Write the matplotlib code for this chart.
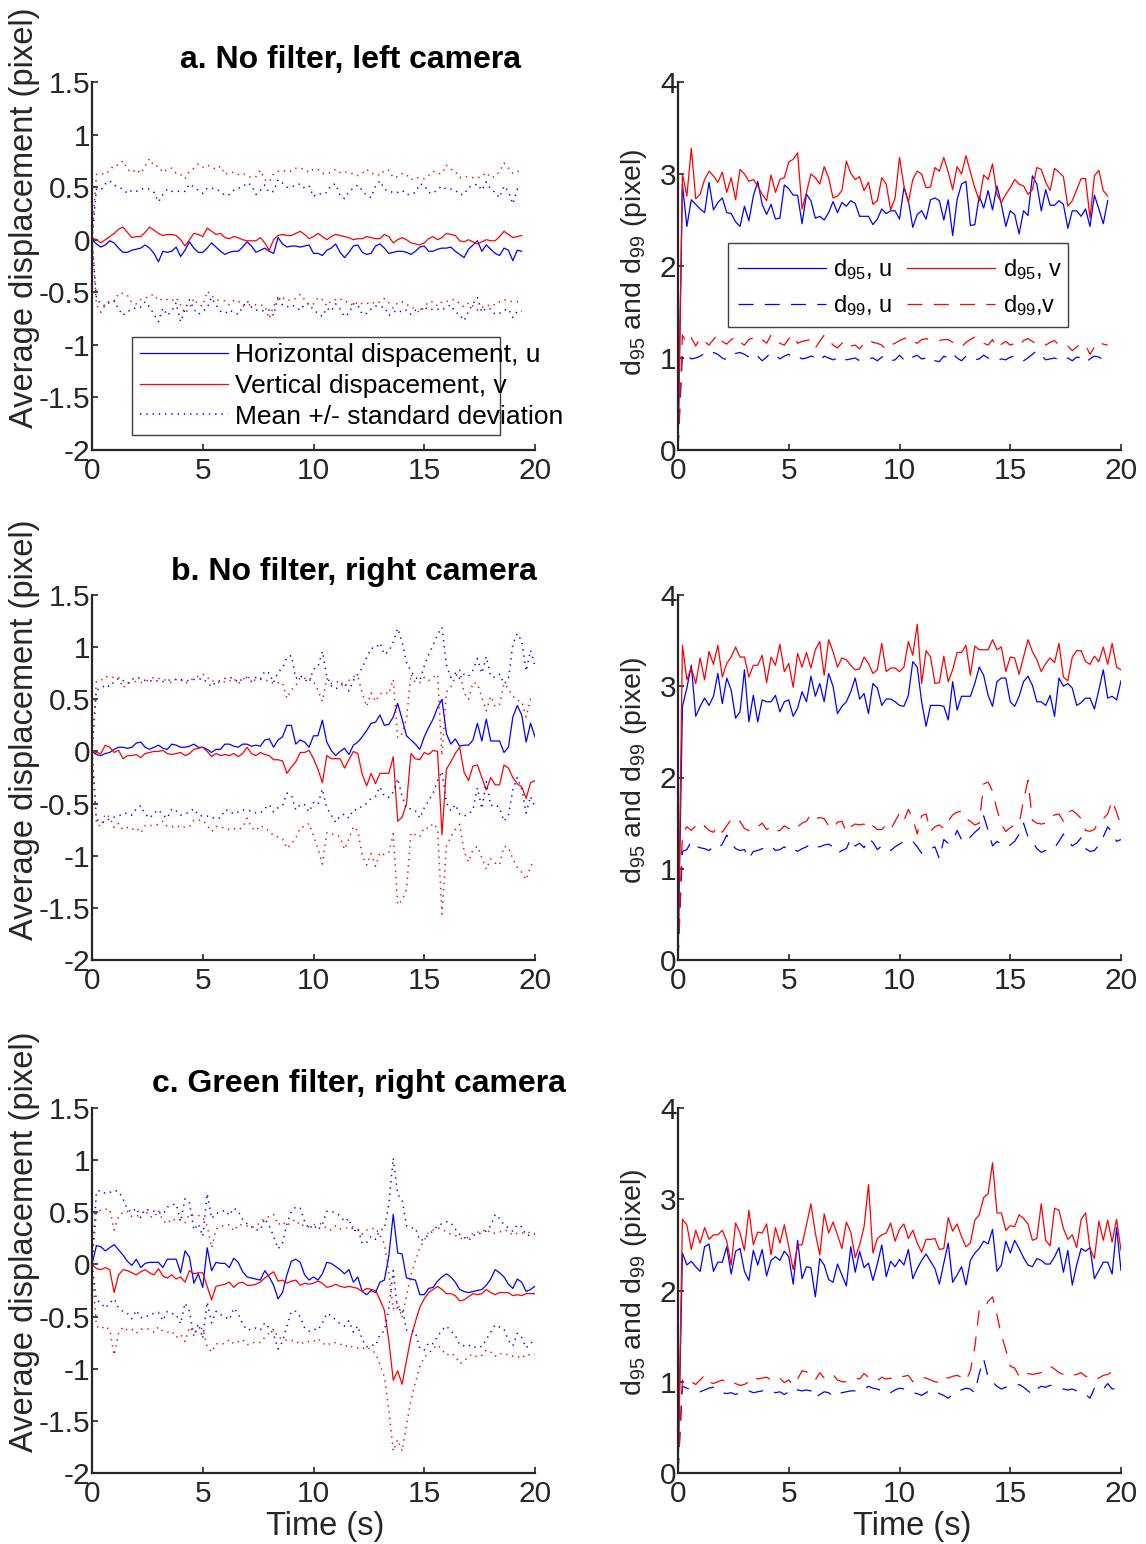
import matplotlib
matplotlib.use("Agg")
import matplotlib.pyplot as plt
import numpy as np
from matplotlib.patches import Rectangle

plt.rcParams['font.family'] = ['Liberation Sans', 'DejaVu Sans']
plt.rcParams['mathtext.fontset'] = 'custom'
plt.rcParams['mathtext.rm'] = 'Liberation Sans'
plt.rcParams['mathtext.it'] = 'Liberation Sans:italic'
plt.rcParams['axes.unicode_minus'] = False

## DATA ##
DT = 0.2  # sampling step (s)

# a. No filter, left camera
u_a = [0.0, -0.04, -0.07, -0.05, -0.01, -0.03, -0.08, -0.12, -0.12, -0.10, -0.09, -0.08, -0.05, -0.08, -0.13, -0.21,
       -0.11, -0.12, -0.11, -0.07, -0.16, -0.10, -0.02, -0.08, -0.12, -0.12, -0.08, -0.03, -0.07, -0.11, -0.14, -0.12,
       -0.11, -0.11, -0.07, -0.02, -0.06, -0.12, -0.10, -0.08, -0.11, -0.13, 0.02, -0.04, -0.07, -0.06, -0.06, -0.07,
       -0.06, -0.05, -0.13, -0.13, -0.15, -0.10, -0.08, -0.04, -0.12, -0.17, -0.12, -0.06, -0.05, -0.12, -0.14, -0.13,
       -0.06, -0.04, -0.08, -0.13, -0.12, -0.11, -0.11, -0.12, -0.14, -0.11, -0.07, -0.06, -0.11, -0.11, -0.09, -0.08,
       -0.08, -0.07, -0.11, -0.14, -0.17, -0.09, -0.05, -0.01, -0.11, -0.05, -0.09, -0.13, -0.15, -0.08, -0.10, -0.20,
       -0.10, -0.11]
v_a = [0.02, 0.0, -0.03, 0.0, 0.03, 0.06, 0.10, 0.12, 0.07, 0.02, 0.03, 0.03, 0.07, 0.12, 0.09, 0.06,
       0.04, 0.05, 0.05, 0.04, 0.0, -0.06, 0.0, 0.06, 0.05, 0.03, 0.11, 0.08, 0.05, 0.06, 0.02, 0.01,
       0.03, 0.02, 0.0, -0.01, -0.01, -0.01, 0.02, -0.03, -0.10, 0.0, 0.04, 0.05, 0.04, 0.04, 0.06, 0.08,
       0.05, 0.01, 0.03, 0.06, 0.03, 0.0, 0.03, 0.05, 0.04, 0.03, 0.02, 0.0, 0.01, 0.01, 0.03, 0.02,
       0.01, 0.01, 0.05, 0.03, -0.03, 0.0, 0.02, 0.0, -0.03, -0.04, -0.05, -0.03, 0.01, 0.03, 0.0, 0.02,
       0.06, 0.05, 0.04, -0.01, -0.02, 0.0, -0.02, -0.04, -0.02, 0.0, -0.01, -0.01, 0.03, 0.08, 0.05, 0.02,
       0.03, 0.04]
su_a = [0.0, 0.52, 0.54, 0.58, 0.57, 0.55, 0.58, 0.60, 0.56, 0.57, 0.55, 0.56, 0.54, 0.56, 0.58, 0.57,
        0.54, 0.60, 0.57, 0.53, 0.62, 0.56, 0.55, 0.58, 0.59, 0.56, 0.57, 0.52, 0.55, 0.57, 0.56, 0.55,
        0.58, 0.60, 0.57, 0.56, 0.58, 0.55, 0.57, 0.60, 0.56, 0.59, 0.55, 0.58, 0.57, 0.56, 0.58, 0.60,
        0.55, 0.56, 0.54, 0.57, 0.58, 0.55, 0.60, 0.57, 0.54, 0.56, 0.58, 0.55, 0.57, 0.59, 0.56, 0.53,
        0.57, 0.60, 0.56, 0.59, 0.57, 0.56, 0.58, 0.55, 0.57, 0.56, 0.60, 0.58, 0.56, 0.55, 0.57, 0.59,
        0.56, 0.55, 0.58, 0.57, 0.60, 0.59, 0.56, 0.54, 0.58, 0.60, 0.57, 0.58, 0.55, 0.59, 0.56, 0.54,
        0.58, 0.57]
sv_a = [0.0, 0.62, 0.66, 0.62, 0.63, 0.65, 0.61, 0.63, 0.60, 0.62, 0.64, 0.60, 0.63, 0.65, 0.61, 0.64,
        0.60, 0.62, 0.63, 0.59, 0.62, 0.64, 0.65, 0.62, 0.67, 0.66, 0.60, 0.61, 0.62, 0.64, 0.60, 0.63,
        0.61, 0.60, 0.63, 0.62, 0.60, 0.61, 0.64, 0.60, 0.65, 0.63, 0.61, 0.60, 0.62, 0.61, 0.62, 0.60,
        0.62, 0.63, 0.64, 0.61, 0.60, 0.63, 0.61, 0.62, 0.60, 0.62, 0.61, 0.63, 0.60, 0.62, 0.64, 0.61,
        0.62, 0.60, 0.61, 0.63, 0.62, 0.60, 0.61, 0.62, 0.60, 0.63, 0.64, 0.61, 0.60, 0.62, 0.63, 0.61,
        0.65, 0.62, 0.61, 0.60, 0.62, 0.60, 0.61, 0.63, 0.62, 0.64, 0.60, 0.61, 0.62, 0.65, 0.63, 0.61,
        0.62, 0.60]
d95u_a = [0.0, 2.89, 2.43, 2.72, 2.67, 2.62, 2.58, 2.91, 2.61, 2.69, 2.74, 2.58, 2.57, 2.48, 2.43, 2.65,
          2.49, 2.76, 2.92, 2.67, 2.56, 2.67, 2.51, 2.52, 2.88, 2.84, 2.77, 2.77, 2.46, 2.78, 2.71, 2.52,
          2.54, 2.50, 2.58, 2.70, 2.58, 2.69, 2.65, 2.71, 2.68, 2.54, 2.54, 2.54, 2.45, 2.51, 2.62, 2.57,
          2.60, 2.60, 2.51, 2.85, 2.71, 2.42, 2.56, 2.60, 2.51, 2.72, 2.74, 2.71, 2.50, 2.72, 2.33, 2.72,
          2.89, 2.92, 2.44, 2.45, 2.76, 2.63, 2.82, 2.61, 2.87, 2.67, 2.43, 2.60, 2.56, 2.35, 2.60, 2.55,
          2.98, 2.89, 2.60, 2.83, 2.66, 2.66, 2.71, 2.67, 2.41, 2.60, 2.60, 2.54, 2.62, 2.43, 2.77, 2.62,
          2.46, 2.71]
d95v_a = [0.0, 3.00, 2.76, 3.28, 2.73, 2.78, 2.94, 3.03, 2.98, 2.91, 3.02, 2.80, 2.96, 2.72, 3.05, 3.00,
          2.92, 2.94, 2.87, 2.78, 2.71, 2.99, 2.80, 2.94, 2.96, 3.13, 3.16, 3.23, 2.62, 2.80, 3.00, 2.96,
          2.89, 3.08, 2.96, 2.74, 2.76, 2.82, 3.14, 3.01, 2.94, 2.97, 2.82, 2.91, 2.67, 2.71, 2.96, 2.89,
          2.61, 2.74, 3.18, 2.87, 2.69, 2.94, 3.03, 3.00, 2.85, 2.86, 3.07, 3.03, 3.18, 3.02, 2.83, 3.08,
          3.00, 3.20, 3.02, 2.85, 2.71, 2.99, 2.94, 3.11, 2.78, 2.69, 2.78, 2.85, 2.94, 2.89, 2.87, 2.78,
          2.83, 3.07, 3.05, 2.91, 2.82, 3.06, 3.02, 2.97, 2.65, 2.71, 2.83, 2.95, 2.95, 2.52, 2.98, 3.04,
          2.82, 2.76]
d99u_a = [0.0, 1.05, 1.03, 0.99, 1.00, 1.02, 1.05, 1.03, 1.06, 1.04, 1.00, 0.98, 1.02, 1.05, 1.06, 1.04,
          1.01, 1.05, 1.02, 0.97, 1.01, 1.06, 1.03, 0.99, 1.02, 1.04, 1.00, 1.02, 0.99, 1.00, 1.02, 1.01,
          0.97, 1.02, 1.00, 0.98, 1.00, 1.02, 0.98, 0.99, 1.00, 0.97, 0.98, 0.99, 1.00, 0.97, 1.01, 1.02,
          0.97, 0.98, 1.03, 0.98, 0.96, 1.01, 1.03, 0.99, 1.00, 1.02, 0.97, 0.96, 1.02, 1.00, 1.05, 1.00,
          0.97, 1.02, 1.01, 0.98, 0.99, 1.03, 1.00, 0.98, 0.97, 0.99, 0.98, 1.01, 1.02, 0.98, 0.97, 1.00,
          1.04, 1.08, 1.03, 0.98, 0.99, 1.00, 0.98, 0.97, 1.00, 0.97, 1.01, 1.00, 0.95, 0.99, 1.02, 1.01,
          0.98, 1.00]
d99v_a = [0.0, 1.25, 1.16, 1.22, 1.13, 1.22, 1.18, 1.14, 1.20, 1.26, 1.18, 1.15, 1.20, 1.23, 1.17, 1.14,
          1.20, 1.22, 1.18, 1.20, 1.16, 1.25, 1.20, 1.16, 1.14, 1.21, 1.25, 1.16, 1.18, 1.19, 1.20, 1.11,
          1.18, 1.25, 1.20, 1.14, 1.11, 1.16, 1.19, 1.13, 1.14, 1.10, 1.16, 1.20, 1.17, 1.16, 1.14, 1.09,
          1.14, 1.16, 1.19, 1.21, 1.23, 1.18, 1.16, 1.20, 1.21, 1.20, 1.21, 1.19, 1.20, 1.20, 1.17, 1.14,
          1.12, 1.17, 1.20, 1.23, 1.18, 1.16, 1.14, 1.20, 1.11, 1.15, 1.18, 1.14, 1.16, 1.13, 1.19, 1.21,
          1.18, 1.15, 1.16, 1.14, 1.17, 1.19, 1.14, 1.12, 1.13, 1.08, 1.12, 1.16, 1.14, 1.04, 1.12, 1.18,
          1.15, 1.14]

# b. No filter, right camera
u_b = [0.0, -0.03, -0.04, -0.02, -0.01, 0.02, 0.04, 0.04, 0.03, 0.04, 0.08, 0.09, 0.04, 0.02, 0.04, 0.06,
       0.03, 0.02, 0.07, 0.06, 0.04, 0.04, 0.05, 0.07, 0.04, 0.04, 0.02, -0.01, 0.02, 0.02, 0.07, 0.07,
       0.05, 0.04, 0.07, 0.07, 0.05, 0.06, 0.05, 0.11, 0.12, 0.04, 0.11, 0.14, 0.25, 0.25, 0.07, 0.11,
       0.09, 0.04, 0.15, 0.15, 0.30, 0.09, 0.01, -0.04, 0.0, 0.03, -0.03, 0.06, 0.09, 0.14, 0.20, 0.27,
       0.28, 0.35, 0.25, 0.26, 0.33, 0.46, 0.31, 0.15, 0.11, 0.07, 0.02, 0.14, 0.23, 0.31, 0.42, 0.50,
       0.17, 0.07, 0.12, 0.05, 0.06, 0.06, 0.11, 0.27, 0.10, 0.31, 0.10, 0.10, 0.10, -0.01, 0.04, 0.33,
       0.44, 0.35, 0.09, 0.27, 0.14]
v_b = [0.0, -0.01, -0.02, 0.06, 0.04, -0.01, 0.01, -0.07, -0.04, -0.04, -0.03, -0.06, -0.02, -0.01, 0.0, 0.0,
       0.01, -0.02, -0.03, -0.02, -0.01, -0.04, -0.02, 0.02, 0.03, 0.04, 0.0, -0.05, -0.02, -0.04, -0.03, -0.04,
       -0.02, -0.05, -0.02, 0.04, -0.02, -0.04, -0.01, -0.03, -0.04, -0.08, -0.08, -0.09, -0.21, -0.15, -0.10, -0.01,
       -0.01, 0.01, -0.07, -0.17, -0.30, -0.04, -0.07, -0.07, -0.07, -0.16, -0.08, 0.0, -0.02, -0.22, -0.33, -0.21,
       -0.31, -0.21, -0.21, -0.21, -0.05, -0.67, -0.63, -0.50, -0.02, -0.07, -0.08, -0.01, -0.03, 0.01, 0.0, -0.80,
       -0.17, -0.10, -0.02, 0.04, -0.20, -0.28, -0.14, -0.13, -0.25, -0.37, -0.25, -0.32, -0.32, -0.13, -0.16, -0.25,
       -0.31, -0.34, -0.45, -0.30, -0.28]
su_b = [0.0, 0.62, 0.64, 0.66, 0.63, 0.65, 0.66, 0.64, 0.62, 0.65, 0.63, 0.61, 0.64, 0.66, 0.63, 0.62,
        0.64, 0.66, 0.62, 0.63, 0.65, 0.64, 0.63, 0.62, 0.65, 0.66, 0.64, 0.63, 0.65, 0.66, 0.63, 0.64,
        0.65, 0.62, 0.63, 0.64, 0.62, 0.65, 0.64, 0.66, 0.63, 0.62, 0.65, 0.66, 0.65, 0.67, 0.63, 0.62,
        0.60, 0.62, 0.64, 0.66, 0.66, 0.63, 0.62, 0.64, 0.62, 0.63, 0.61, 0.62, 0.65, 0.66, 0.70, 0.72,
        0.71, 0.69, 0.68, 0.70, 0.72, 0.72, 0.74, 0.70, 0.66, 0.64, 0.66, 0.68, 0.70, 0.71, 0.70, 0.69,
        0.66, 0.64, 0.63, 0.65, 0.68, 0.66, 0.67, 0.62, 0.65, 0.60, 0.62, 0.61, 0.64, 0.66, 0.65, 0.70,
        0.69, 0.71, 0.68, 0.70, 0.68]
sv_b = [0.0, 0.68, 0.70, 0.66, 0.67, 0.72, 0.70, 0.68, 0.69, 0.71, 0.70, 0.72, 0.69, 0.70, 0.71, 0.70,
        0.68, 0.70, 0.69, 0.71, 0.70, 0.69, 0.70, 0.68, 0.69, 0.70, 0.71, 0.72, 0.70, 0.69, 0.70, 0.71,
        0.72, 0.70, 0.71, 0.68, 0.71, 0.72, 0.70, 0.71, 0.72, 0.73, 0.74, 0.75, 0.72, 0.74, 0.73, 0.72,
        0.71, 0.70, 0.74, 0.76, 0.78, 0.74, 0.72, 0.73, 0.75, 0.78, 0.76, 0.72, 0.74, 0.78, 0.76, 0.77,
        0.79, 0.76, 0.78, 0.76, 0.74, 0.80, 0.80, 0.82, 0.76, 0.73, 0.74, 0.72, 0.71, 0.70, 0.74, 0.76,
        0.74, 0.72, 0.73, 0.74, 0.76, 0.78, 0.80, 0.78, 0.77, 0.76, 0.78, 0.75, 0.77, 0.78, 0.76, 0.78,
        0.80, 0.82, 0.78, 0.80, 0.76]
d95u_b = [0.0, 2.78, 2.98, 3.23, 2.67, 2.78, 2.87, 2.79, 2.89, 3.14, 2.81, 3.09, 2.96, 2.65, 2.72, 3.18,
          2.61, 2.90, 2.61, 2.85, 2.83, 2.83, 2.90, 2.72, 2.83, 2.85, 2.67, 2.76, 2.94, 2.83, 3.11, 2.89,
          3.03, 2.83, 3.14, 3.00, 2.70, 2.78, 2.83, 2.94, 3.09, 2.86, 2.92, 2.70, 3.03, 2.98, 2.79, 2.86,
          2.86, 2.83, 2.79, 2.78, 2.90, 3.27, 3.21, 2.83, 2.56, 2.79, 2.79, 2.79, 2.78, 2.63, 3.05, 2.74,
          2.89, 2.89, 2.89, 3.03, 3.21, 3.12, 2.90, 2.78, 3.05, 3.09, 3.09, 2.83, 2.78, 2.89, 3.05, 3.11,
          3.01, 2.83, 2.83, 2.79, 2.90, 2.67, 3.09, 3.00, 3.03, 2.98, 2.79, 2.82, 2.87, 2.87, 2.75, 2.96,
          3.18, 2.87, 2.89, 2.85, 3.06]
d95v_b = [0.0, 3.45, 3.07, 3.20, 3.03, 3.31, 3.07, 3.38, 3.24, 3.45, 3.10, 3.25, 3.32, 3.43, 3.32, 3.32,
          3.10, 3.23, 3.23, 3.34, 3.04, 3.32, 3.23, 3.46, 3.16, 3.25, 2.99, 3.36, 3.21, 3.37, 3.20, 3.40,
          3.49, 3.12, 3.51, 3.38, 3.21, 3.31, 3.29, 3.23, 3.18, 3.19, 3.32, 3.25, 3.14, 3.18, 3.47, 3.16,
          3.20, 3.20, 3.16, 3.21, 3.49, 3.34, 3.68, 3.03, 3.39, 3.32, 3.03, 3.04, 3.33, 3.05, 3.18, 3.37,
          3.37, 3.45, 3.12, 3.44, 3.40, 3.40, 3.40, 3.51, 3.40, 3.43, 3.16, 3.32, 3.31, 3.13, 3.32, 3.51,
          3.38, 3.29, 3.16, 3.25, 3.31, 3.26, 3.47, 3.10, 3.06, 3.32, 3.39, 3.39, 3.27, 3.24, 3.33, 3.27,
          3.43, 3.24, 3.47, 3.21, 3.18]
d99u_b = [0.0, 1.19, 1.21, 1.30, 1.25, 1.23, 1.22, 1.20, 1.24, 1.22, 1.27, 1.37, 1.28, 1.22, 1.20, 1.21,
          1.11, 1.19, 1.20, 1.22, 1.23, 1.25, 1.20, 1.21, 1.24, 1.20, 1.22, 1.19, 1.22, 1.24, 1.28, 1.25,
          1.24, 1.26, 1.27, 1.24, 1.17, 1.20, 1.22, 1.33, 1.25, 1.28, 1.23, 1.33, 1.29, 1.21, 1.25, 1.21,
          1.20, 1.24, 1.27, 1.30, 1.31, 1.30, 1.24, 1.17, 1.19, 1.22, 1.24, 1.11, 1.32, 1.28, 1.30, 1.42,
          1.32, 1.29, 1.35, 1.40, 1.44, 1.58, 1.42, 1.25, 1.30, 1.27, 1.24, 1.26, 1.30, 1.38, 1.50, 1.35,
          1.30, 1.22, 1.18, 1.20, 1.21, 1.23, 1.30, 1.38, 1.31, 1.25, 1.28, 1.34, 1.22, 1.19, 1.20, 1.26,
          1.35, 1.46, 1.40, 1.30, 1.32]
d99v_b = [0.0, 1.39, 1.46, 1.42, 1.47, 1.43, 1.47, 1.42, 1.40, 1.47, 1.40, 1.47, 1.54, 1.50, 1.52, 1.44,
          1.42, 1.41, 1.46, 1.50, 1.43, 1.46, 1.41, 1.42, 1.47, 1.44, 1.41, 1.46, 1.50, 1.52, 1.60, 1.55,
          1.56, 1.55, 1.47, 1.44, 1.51, 1.52, 1.40, 1.46, 1.49, 1.48, 1.49, 1.43, 1.47, 1.43, 1.43, 1.48,
          1.43, 1.52, 1.61, 1.53, 1.65, 1.55, 1.38, 1.58, 1.60, 1.41, 1.46, 1.48, 1.44, 1.52, 1.59, 1.62,
          1.63, 1.55, 1.52, 1.48, 1.50, 1.93, 1.95, 1.85, 1.65, 1.48, 1.41, 1.45, 1.48, 1.49, 1.75, 1.97,
          1.53, 1.50, 1.49, 1.50, 1.56, 1.59, 1.60, 1.52, 1.62, 1.64, 1.60, 1.55, 1.42, 1.41, 1.43, 1.52,
          1.55, 1.60, 1.75, 1.62, 1.47]

# c. Green filter, right camera
u_c = [0.0, 0.18, 0.17, 0.13, 0.16, 0.19, 0.14, 0.09, 0.03, -0.01, 0.05, -0.03, 0.01, 0.02, 0.02, 0.02,
       -0.03, 0.05, 0.05, 0.05, -0.08, 0.13, 0.07, -0.18, -0.09, -0.22, 0.16, -0.06, 0.02, 0.01, 0.01, -0.03,
       0.06, 0.02, -0.07, -0.12, -0.13, -0.14, -0.15, -0.06, -0.12, -0.20, -0.33, -0.27, -0.10, 0.03, 0.05, 0.02,
       -0.10, -0.15, -0.12, -0.15, -0.09, 0.02, 0.01, -0.02, -0.05, -0.09, -0.05, -0.17, -0.12, -0.26, -0.29, -0.25,
       -0.27, -0.17, -0.15, 0.08, 0.48, 0.11, 0.10, -0.13, -0.14, -0.15, -0.29, -0.29, -0.23, -0.22, -0.16, -0.12,
       -0.09, -0.12, -0.17, -0.24, -0.26, -0.27, -0.26, -0.25, -0.24, -0.20, -0.14, -0.05, -0.08, -0.12, -0.19, -0.23,
       -0.14, -0.17, -0.26, -0.24, -0.21]
v_c = [0.0, -0.04, -0.05, -0.03, -0.05, -0.27, -0.10, -0.05, -0.06, -0.08, -0.10, -0.07, -0.05, -0.08, -0.10, -0.04,
       -0.11, -0.13, -0.10, -0.14, -0.12, -0.17, -0.06, -0.09, -0.08, -0.08, -0.21, -0.34, -0.21, -0.20, -0.19, -0.17,
       -0.22, -0.18, -0.17, -0.20, -0.20, -0.19, -0.17, -0.13, -0.10, -0.07, -0.16, -0.15, -0.18, -0.16, -0.15, -0.20,
       -0.18, -0.19, -0.18, -0.16, -0.18, -0.22, -0.21, -0.19, -0.21, -0.22, -0.21, -0.22, -0.23, -0.26, -0.23, -0.24,
       -0.25, -0.34, -0.44, -0.73, -1.11, -1.02, -1.15, -0.92, -0.70, -0.55, -0.41, -0.33, -0.27, -0.24, -0.21, -0.24,
       -0.28, -0.28, -0.30, -0.35, -0.34, -0.31, -0.28, -0.29, -0.28, -0.24, -0.27, -0.29, -0.27, -0.27, -0.27, -0.30,
       -0.29, -0.30, -0.28, -0.28, -0.28]
su_c = [0.0, 0.52, 0.54, 0.55, 0.53, 0.52, 0.56, 0.54, 0.50, 0.51, 0.49, 0.48, 0.52, 0.50, 0.49, 0.48,
        0.51, 0.50, 0.52, 0.53, 0.49, 0.50, 0.52, 0.51, 0.48, 0.49, 0.52, 0.50, 0.47, 0.49, 0.51, 0.50,
        0.48, 0.49, 0.50, 0.51, 0.49, 0.47, 0.48, 0.50, 0.49, 0.47, 0.48, 0.47, 0.49, 0.48, 0.50, 0.52,
        0.51, 0.49, 0.50, 0.48, 0.47, 0.49, 0.50, 0.51, 0.52, 0.50, 0.49, 0.48, 0.47, 0.46, 0.50, 0.52,
        0.51, 0.50, 0.49, 0.50, 0.54, 0.56, 0.52, 0.50, 0.49, 0.50, 0.52, 0.53, 0.52, 0.54, 0.53, 0.51,
        0.50, 0.52, 0.51, 0.53, 0.52, 0.50, 0.54, 0.53, 0.55, 0.52, 0.51, 0.53, 0.52, 0.50, 0.54, 0.55,
        0.52, 0.53, 0.54, 0.52, 0.50]
sv_c = [0.0, 0.55, 0.57, 0.56, 0.58, 0.60, 0.56, 0.55, 0.57, 0.54, 0.56, 0.55, 0.57, 0.54, 0.55, 0.56,
        0.53, 0.52, 0.54, 0.56, 0.55, 0.57, 0.54, 0.56, 0.55, 0.53, 0.58, 0.50, 0.55, 0.56, 0.57, 0.55,
        0.54, 0.56, 0.55, 0.57, 0.56, 0.55, 0.58, 0.57, 0.56, 0.55, 0.54, 0.56, 0.55, 0.57, 0.58, 0.57,
        0.56, 0.55, 0.56, 0.55, 0.57, 0.56, 0.54, 0.56, 0.55, 0.57, 0.56, 0.58, 0.57, 0.55, 0.56, 0.58,
        0.60, 0.62, 0.64, 0.66, 0.68, 0.66, 0.64, 0.62, 0.60, 0.58, 0.57, 0.56, 0.58, 0.57, 0.56, 0.58,
        0.59, 0.57, 0.58, 0.60, 0.59, 0.57, 0.58, 0.60, 0.59, 0.58, 0.57, 0.59, 0.58, 0.60, 0.59, 0.58,
        0.59, 0.60, 0.58, 0.59, 0.58]
d95u_c = [0.0, 2.41, 2.28, 2.32, 2.26, 2.21, 2.48, 2.51, 2.21, 2.31, 2.31, 2.48, 2.18, 2.43, 2.46, 2.21,
          2.11, 2.44, 2.28, 2.45, 2.16, 2.33, 2.37, 2.33, 2.43, 2.37, 2.07, 2.55, 2.13, 2.26, 2.25, 1.93,
          2.35, 2.28, 2.12, 2.09, 2.29, 2.17, 2.05, 2.48, 2.20, 2.43, 2.25, 2.30, 2.11, 2.29, 2.50, 2.15,
          2.32, 2.26, 2.34, 2.28, 2.45, 2.13, 2.24, 2.33, 2.40, 2.32, 2.24, 2.07, 2.30, 2.52, 2.09, 2.17,
          2.26, 2.06, 2.33, 2.41, 2.46, 2.54, 2.51, 2.67, 2.21, 2.28, 2.54, 2.41, 2.55, 2.46, 2.36, 2.28,
          2.26, 2.35, 2.33, 2.29, 2.29, 2.37, 2.47, 2.20, 2.44, 2.06, 2.28, 2.46, 2.43, 2.47, 2.13, 2.22,
          2.31, 2.31, 2.18, 2.69, 2.22]
d95v_c = [0.0, 2.78, 2.72, 2.45, 2.66, 2.52, 2.69, 2.56, 2.61, 2.61, 2.66, 2.54, 2.28, 2.74, 2.63, 2.44,
          2.88, 2.50, 2.64, 2.63, 2.73, 2.39, 2.69, 2.52, 2.72, 2.48, 2.23, 2.50, 2.50, 2.72, 2.95, 2.63,
          2.39, 2.84, 2.63, 2.75, 2.61, 2.46, 2.75, 2.64, 2.36, 2.50, 2.70, 3.16, 2.41, 2.57, 2.61, 2.63,
          2.74, 2.54, 2.67, 2.73, 2.57, 2.66, 2.52, 2.42, 2.56, 2.56, 2.57, 2.45, 2.46, 2.80, 2.65, 2.73,
          2.59, 2.48, 2.52, 2.77, 2.83, 3.02, 3.06, 3.40, 2.85, 2.85, 2.66, 2.71, 2.70, 2.83, 2.79, 2.73,
          2.55, 2.57, 2.95, 2.55, 2.49, 2.90, 2.88, 2.68, 2.56, 2.61, 2.47, 2.78, 2.85, 2.46, 2.35, 2.76,
          2.55, 2.77, 2.53, 2.78, 2.44]
d99u_c = [0.0, 0.95, 0.93, 0.91, 0.90, 0.89, 0.91, 0.93, 0.94, 0.91, 0.88, 0.87, 0.88, 0.86, 0.88, 0.89,
          0.90, 0.88, 0.89, 0.90, 0.91, 0.90, 0.88, 0.89, 0.86, 0.89, 0.93, 0.91, 0.90, 0.91, 0.90, 0.82,
          0.86, 0.89, 0.88, 0.84, 0.87, 0.88, 0.89, 0.90, 0.90, 0.91, 0.92, 0.95, 0.93, 0.92, 0.90, 0.87,
          0.88, 0.91, 0.93, 0.92, 0.90, 0.88, 0.87, 0.85, 0.88, 0.91, 0.90, 0.87, 0.85, 0.82, 0.86, 0.90,
          0.91, 0.93, 0.92, 0.88, 1.09, 1.25, 1.05, 1.00, 0.95, 0.92, 0.94, 0.95, 0.95, 0.97, 0.94, 0.90,
          0.86, 0.92, 0.95, 0.94, 0.96, 0.95, 0.94, 0.92, 0.91, 0.92, 0.90, 0.88, 0.86, 0.82, 0.93, 0.90,
          0.92, 0.98, 0.92, 0.93, 0.92]
d99v_c = [0.0, 1.02, 0.98, 1.00, 0.97, 1.02, 1.07, 1.00, 0.98, 1.00, 1.02, 0.99, 1.01, 0.98, 0.96, 0.97,
          1.00, 1.06, 1.03, 1.04, 1.05, 1.02, 1.01, 1.04, 0.99, 1.02, 0.96, 1.03, 1.12, 1.11, 1.06, 1.02,
          1.10, 1.04, 1.05, 1.08, 1.02, 1.00, 1.00, 1.01, 1.04, 1.03, 1.09, 1.05, 1.03, 1.01, 1.05, 1.03,
          1.04, 1.06, 1.05, 1.06, 1.07, 1.00, 1.04, 1.05, 1.04, 1.02, 1.00, 0.99, 1.05, 1.04, 1.06, 1.07,
          1.05, 1.01, 1.12, 1.38, 1.79, 1.80, 1.88, 1.93, 1.73, 1.51, 1.35, 1.17, 1.15, 1.06, 1.04, 1.09,
          1.08, 1.09, 1.10, 1.12, 1.17, 1.14, 1.10, 1.08, 1.06, 1.07, 1.08, 1.10, 1.06, 1.05, 1.02, 1.04,
          1.07, 1.08, 1.11, 1.09, 1.10]

TITLES = ["a. No filter, left camera", "b. No filter, right camera", "c. Green filter, right camera"]
MEANS = [(u_a, v_a, su_a, sv_a), (u_b, v_b, su_b, sv_b), (u_c, v_c, su_c, sv_c)]
DPCT = [(d95u_a, d95v_a, d99u_a, d99v_a), (d95u_b, d95v_b, d99u_b, d99v_b), (d95u_c, d95v_c, d99u_c, d99v_c)]

LEFT_YTICKS = [-2, -1.5, -1, -0.5, 0, 0.5, 1, 1.5]
LEFT_YLABELS = ["-2", "-1.5", "-1", "-0.5", "0", "0.5", "1", "1.5"]
RIGHT_YTICKS = [0, 1, 2, 3, 4]
XTICKS = [0, 5, 10, 15, 20]

## STYLE ##
W, H = 1146, 1544
AX_COL = '#262626'
BLUE = (0, 0, 1)
RED = (1, 0, 0)
DOT = (0, (0.9, 3.2))
DASH = (0, (12, 9))
LW = 0.9
LW_DOT = 1.1

# (top, bottom) pixel rows of each panel row
ROWS = [(82, 450), (595, 960), (1108, 1473)]
TITLE_POS = [(350, 60), (354, 572), (359, 1084)]
YLAB_L = [218, 730, 1242]
YLAB_R = [262, 770, 1282]


def time_of(y):
    return np.arange(len(y)) * DT


def style_axes(ax, yticks, ylabels):
    for s in ['top', 'right']:
        ax.spines[s].set_visible(False)
    for s in ['left', 'bottom']:
        ax.spines[s].set_color(AX_COL)
        ax.spines[s].set_linewidth(1.6)
    ax.set_xlim(0, 20)
    ax.set_xticks(XTICKS)
    ax.set_xticklabels([str(x) for x in XTICKS])
    ax.set_yticks(yticks)
    ax.set_yticklabels(ylabels)
    ax.tick_params(direction='in', length=4, width=1.2, color=AX_COL, labelcolor=AX_COL, labelsize=21.5)
    ax.tick_params(axis='y', pad=1)
    ax.tick_params(axis='x', pad=5)
    ax.set_facecolor('none')


fig = plt.figure(figsize=(W / 100, H / 100), dpi=100)

for i, (top, bot) in enumerate(ROWS):
    y0 = 1 - bot / H
    hh = (bot - top) / H
    axl = fig.add_axes([92 / W, y0, 443 / W, hh])
    axr = fig.add_axes([678 / W, y0, 443 / W, hh])

    u, v, su, sv = [np.array(a) for a in MEANS[i]]
    t = time_of(u)
    hu, = axl.plot(t, u, color=BLUE, lw=LW)
    hv, = axl.plot(time_of(v), v, color=RED, lw=LW)
    hs, = axl.plot(t, u + su, color=BLUE, lw=LW_DOT, linestyle=DOT)
    axl.plot(t, u - su, color=BLUE, lw=LW_DOT, linestyle=DOT)
    axl.plot(time_of(v), v + sv, color=RED, lw=LW_DOT, linestyle=DOT)
    axl.plot(time_of(v), v - sv, color=RED, lw=LW_DOT, linestyle=DOT)
    axl.set_ylim(-2, 1.5)
    style_axes(axl, LEFT_YTICKS, LEFT_YLABELS)

    d95u, d95v, d99u, d99v = DPCT[i]
    h1, = axr.plot(time_of(d95u), d95u, color=BLUE, lw=LW)
    h2, = axr.plot(time_of(d95v), d95v, color=RED, lw=LW)
    h3, = axr.plot(time_of(d99u), d99u, color=BLUE, lw=LW, linestyle=DASH)
    h4, = axr.plot(time_of(d99v), d99v, color=RED, lw=LW, linestyle=DASH)
    axr.set_ylim(0, 4)
    style_axes(axr, RIGHT_YTICKS, [str(y) for y in RIGHT_YTICKS])

    tx, ty = TITLE_POS[i]
    fig.text(tx / W, 1 - ty / H, TITLES[i], fontsize=23, fontweight='bold', ha='center', va='center')
    fig.text(25 / W, 1 - YLAB_L[i] / H, "Average displacement (pixel)", rotation=90,
             fontsize=23.5, ha='center', va='center', color=AX_COL)
    fig.text(634 / W, 1 - YLAB_R[i] / H, "d$_{95}$ and d$_{99}$ (pixel)", rotation=90,
             fontsize=20.5, ha='center', va='center', color=AX_COL)

    if i == 0:
        # legend boxes drawn separately: the reference text runs past its frame
        axl.legend([hu, hv, hs], ["Horizontal dispacement, u", "Vertical dispacement, v",
                                  "Mean +/- standard deviation"],
                   frameon=False, loc='upper left', bbox_to_anchor=(0.108, 0.291),
                   fontsize=19, handlelength=3.33, handletextpad=0.27, labelspacing=0.26,
                   borderpad=0, borderaxespad=0)
        axl.add_patch(Rectangle((0.0903, 0.041), 0.831, 0.266, transform=axl.transAxes,
                                fill=False, edgecolor='#404040', lw=1.0, zorder=5))
        axr.legend([h1, h3, h2, h4], ["d$_{95}$, u", "d$_{99}$, u", "d$_{95}$, v", "d$_{99}$,v"],
                   ncol=2, frameon=False, loc='upper left', bbox_to_anchor=(0.1354, 0.524),
                   fontsize=17, handlelength=3.73, handletextpad=0.3, columnspacing=0.64,
                   labelspacing=0.47, borderpad=0, borderaxespad=0)
        axr.add_patch(Rectangle((0.1129, 0.334), 0.7675, 0.228, transform=axr.transAxes,
                                fill=False, edgecolor='#404040', lw=1.0, zorder=5))

    if i == 2:
        fig.text(325 / W, 1 - 1526 / H, "Time (s)", fontsize=23.5, ha='center', va='center', color=AX_COL)
        fig.text(912 / W, 1 - 1526 / H, "Time (s)", fontsize=23.5, ha='center', va='center', color=AX_COL)

fig.savefig("out.png", dpi=100, facecolor='white')
